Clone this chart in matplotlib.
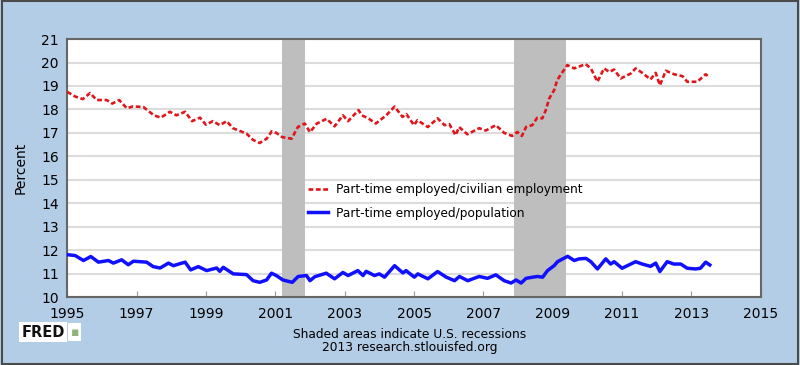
import matplotlib.pyplot as plt
from matplotlib.patches import Rectangle

# values (decimal year, percent)
red_years = [1995.0, 1995.23, 1995.45, 1995.66, 1995.85, 1996.14, 1996.3, 1996.5, 1996.72, 1996.9,
             1997.2, 1997.5, 1997.7, 1997.96, 1998.15, 1998.4, 1998.6, 1998.83, 1999.0, 1999.2,
             1999.4, 1999.6, 1999.78, 2000.17, 2000.36, 2000.55, 2000.75, 2000.9, 2001.03, 2001.2,
             2001.47, 2001.65, 2001.85, 2002.0, 2002.2, 2002.48, 2002.71, 2002.95, 2003.1, 2003.4,
             2003.5, 2003.7, 2003.9, 2004.2, 2004.44, 2004.67, 2004.78, 2005.0, 2005.1, 2005.4,
             2005.68, 2005.88, 2006.02, 2006.2, 2006.3, 2006.54, 2006.88, 2007.07, 2007.36, 2007.6,
             2007.83, 2007.98, 2008.11, 2008.23, 2008.41, 2008.55, 2008.7, 2008.8, 2008.9, 2009.04,
             2009.13, 2009.19, 2009.42, 2009.62, 2009.95, 2010.1, 2010.29, 2010.48, 2010.63, 2010.77,
             2010.96, 2011.25, 2011.39, 2011.58, 2011.82, 2011.97, 2012.09, 2012.26, 2012.5, 2012.74,
             2012.88, 2013.17, 2013.41, 2013.53]
red_vals = [18.75, 18.55, 18.44, 18.7, 18.4, 18.4, 18.25, 18.4, 18.05, 18.13,
            18.1, 17.75, 17.65, 17.9, 17.75, 17.9, 17.5, 17.65, 17.35, 17.5,
            17.33, 17.5, 17.2, 16.97, 16.7, 16.57, 16.75, 17.07, 17.0, 16.82,
            16.75, 17.25, 17.4, 17.03, 17.4, 17.6, 17.28, 17.75, 17.5, 17.97,
            17.75, 17.6, 17.4, 17.75, 18.12, 17.68, 17.8, 17.33, 17.54, 17.25,
            17.62, 17.33, 17.37, 16.9, 17.25, 16.94, 17.2, 17.1, 17.33, 17.0,
            16.87, 17.04, 16.87, 17.25, 17.33, 17.64, 17.62, 17.97, 18.47, 18.82,
            19.25, 19.39, 19.89, 19.75, 19.93, 19.75, 19.18, 19.75, 19.6, 19.7,
            19.32, 19.53, 19.75, 19.56, 19.28, 19.56, 19.03, 19.65, 19.5, 19.42,
            19.18, 19.18, 19.5, 19.36]

blue_years = [1995.0, 1995.23, 1995.47, 1995.68, 1995.9, 1996.19, 1996.33, 1996.57, 1996.76, 1996.91,
              1997.29, 1997.48, 1997.68, 1997.92, 1998.06, 1998.4, 1998.56, 1998.78, 1999.02, 1999.31,
              1999.4, 1999.5, 1999.79, 2000.17, 2000.36, 2000.55, 2000.75, 2000.89, 2001.03, 2001.22,
              2001.49, 2001.66, 2001.9, 2002.0, 2002.14, 2002.47, 2002.71, 2002.95, 2003.1, 2003.38,
              2003.53, 2003.62, 2003.86, 2004.0, 2004.15, 2004.44, 2004.68, 2004.77, 2005.01, 2005.11,
              2005.4, 2005.68, 2005.93, 2006.17, 2006.31, 2006.55, 2006.88, 2007.12, 2007.36, 2007.6,
              2007.8, 2007.94, 2008.09, 2008.23, 2008.42, 2008.56, 2008.71, 2008.85, 2009.04, 2009.14,
              2009.2, 2009.43, 2009.62, 2009.76, 2009.96, 2010.1, 2010.29, 2010.53, 2010.67, 2010.77,
              2011.0, 2011.39, 2011.58, 2011.82, 2011.97, 2012.09, 2012.3, 2012.49, 2012.69, 2012.88,
              2013.12, 2013.26, 2013.41, 2013.53]
blue_vals = [11.81, 11.77, 11.56, 11.73, 11.49, 11.56, 11.45, 11.59, 11.38, 11.53,
             11.49, 11.3, 11.24, 11.45, 11.34, 11.49, 11.16, 11.3, 11.13, 11.24,
             11.1, 11.27, 10.99, 10.96, 10.7, 10.63, 10.73, 11.02, 10.92, 10.73,
             10.63, 10.88, 10.92, 10.7, 10.87, 11.02, 10.78, 11.05, 10.92, 11.13,
             10.92, 11.1, 10.92, 10.99, 10.85, 11.34, 11.03, 11.13, 10.85, 10.99,
             10.78, 11.09, 10.85, 10.7, 10.88, 10.7, 10.88, 10.8, 10.95, 10.7,
             10.6, 10.73, 10.6, 10.8, 10.85, 10.88, 10.85, 11.13, 11.34, 11.51,
             11.56, 11.74, 11.56, 11.63, 11.65, 11.51, 11.2, 11.63, 11.41, 11.51,
             11.23, 11.51, 11.41, 11.31, 11.45, 11.09, 11.51, 11.41, 11.41, 11.23,
             11.2, 11.23, 11.49, 11.37]

recessions = [(2001.18, 2001.85), (2007.88, 2009.38)]
x_ticks = [1995, 1997, 1999, 2001, 2003, 2005, 2007, 2009, 2011, 2013, 2015]
y_ticks = [10, 11, 12, 13, 14, 15, 16, 17, 18, 19, 20, 21]

bg = '#b4cde6'
fig = plt.figure(figsize=(8, 3.65), dpi=100, facecolor=bg)
fig.patches.append(Rectangle((0.002, 0.003), 0.996, 0.994, transform=fig.transFigure,
                             fill=False, edgecolor='#4a4a4a', linewidth=1.5))

ax = fig.add_axes([0.084, 0.186, 0.867, 0.707])
ax.set_facecolor('white')

for start, end in recessions:
    ax.axvspan(start, end, color='#bebebe', zorder=1, linewidth=0)

ax.plot(red_years, red_vals, color='#e0161c', linestyle=(0, (1.8, 1.0)), linewidth=1.9,
        label='Part-time employed/civilian employment', zorder=3)
ax.plot(blue_years, blue_vals, color='#1010ff', linewidth=2.5,
        label='Part-time employed/population', zorder=3)

ax.set_xlim(1995, 2015)
ax.set_ylim(10, 21)
ax.set_xticks(x_ticks)
ax.set_yticks(y_ticks)
ax.grid(axis='y', color='#dcdcdc', linewidth=1.5, zorder=0)
ax.set_axisbelow(True)
ax.tick_params(axis='x', direction='in', length=4, color='#999999', labelsize=10, pad=7)
ax.tick_params(axis='y', length=0, labelsize=10, pad=6)
for s in ax.spines.values():
    s.set_color('#666666')
    s.set_linewidth(1.5)

ax.set_ylabel('Percent', fontsize=10, labelpad=10)

ax.legend(loc='upper left', bbox_to_anchor=(0.34, 0.46), frameon=False, fontsize=8.7,
          handlelength=1.7, handletextpad=0.6, labelspacing=0.85, borderaxespad=0)

fig.text(0.027, 0.09, 'FRED', fontsize=10.5, fontweight='bold', color='#111111', va='center',
         bbox=dict(facecolor='white', edgecolor='none', boxstyle='square,pad=0.15'))
fig.text(0.088, 0.09, '\u25aa', fontsize=9, color='#8fb27a', va='center',
         bbox=dict(facecolor='white', edgecolor='none', boxstyle='square,pad=0.2'))
fig.text(0.512, 0.067, 'Shaded areas indicate U.S. recessions\n2013 research.stlouisfed.org',
         ha='center', va='center', fontsize=8.8, linespacing=1.0)

fig.savefig('out.png', dpi=100, facecolor=bg)
